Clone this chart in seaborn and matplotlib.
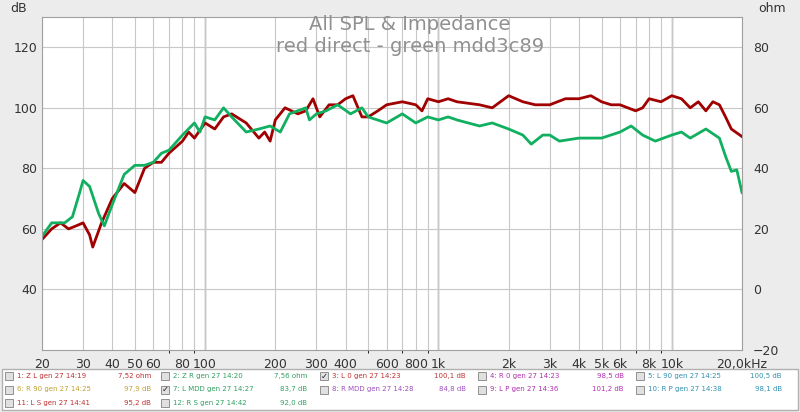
import matplotlib
matplotlib.use('Agg')
import matplotlib.pyplot as plt
from matplotlib.ticker import FixedLocator, NullFormatter
import seaborn as sns
import pandas as pd
import numpy as np

# red curve: direct
red_freq = [20, 22, 24, 26, 28, 30, 32, 33, 36, 40, 45, 50, 55, 60, 65, 70, 80, 85, 90, 100, 110, 120,
            130, 150, 170, 180, 190, 200, 220, 250, 270, 290, 310, 340, 370, 400, 430, 470, 500, 550,
            600, 700, 800, 850, 900, 1000, 1100, 1200, 1500, 1700, 2000, 2300, 2600, 3000, 3500, 4000,
            4500, 5000, 5500, 6000, 7000, 7500, 8000, 9000, 10000, 11000, 12000, 13000, 14000, 15000,
            16000, 17000, 18000, 20000]
red_db = [56.5, 60, 62, 60, 61, 62, 58, 54, 62, 70, 75, 72, 80, 82, 82, 85, 89, 92, 90, 95, 93, 97,
          98, 95, 90, 92, 89, 96, 100, 98, 99, 103, 97, 101, 101, 103, 104, 97, 97, 99,
          101, 102, 101, 99, 103, 102, 103, 102, 101, 100, 104, 102, 101, 101, 103, 103,
          104, 102, 101, 101, 99, 100, 103, 102, 104, 103, 100, 102, 99, 102,
          101, 97, 93, 90.5]

# green curve: mdd3c89
green_freq = [20, 22, 25, 27, 29, 30, 32, 35, 37, 40, 45, 50, 55, 60, 65, 70, 80, 90, 95, 100, 110,
              120, 130, 150, 170, 190, 210, 230, 270, 280, 300, 330, 370, 420, 470, 500, 600, 700,
              800, 900, 1000, 1100, 1200, 1500, 1700, 2000, 2300, 2500, 2800, 3000, 3300, 4000, 5000,
              6000, 6700, 7500, 8500, 10000, 11000, 12000, 14000, 16000, 17000, 18000, 19000, 20000]
green_db = [57.5, 62, 62, 64, 72, 76, 74, 65, 61, 68, 78, 81, 81, 82, 85, 86, 91, 95, 92, 97, 96,
            100, 97, 92, 93, 94, 92, 98, 100, 96, 98, 99, 101, 98, 100, 97, 95, 98,
            95, 97, 96, 97, 96, 94, 95, 93, 91, 88, 91, 91, 89, 90, 90,
            92, 94, 91, 89, 91, 92, 90, 93, 90, 84, 79, 79.5, 72]

x_ticks = [20, 30, 40, 50, 60, 80, 100, 200, 300, 400, 600, 800, 1000, 2000, 3000, 4000, 5000, 6000,
           8000, 10000, 20000]
x_labels = ['20', '30', '40', '50', '60', '80', '100', '200', '300', '400', '600', '800', '1k', '2k',
            '3k', '4k', '5k', '6k', '8k', '10k', '20,0kHz']

legend_rows = [
    [('1: Z L gen 27 14:19', '7,52 ohm', '#c03030', False), ('2: Z R gen 27 14:20', '7,56 ohm', '#30a060', False),
     ('3: L 0 gen 27 14:23', '100,1 dB', '#c03030', True), ('4: R 0 gen 27 14:23', '98,5 dB', '#b030b0', False),
     ('5: L 90 gen 27 14:25', '100,5 dB', '#3090b0', False)],
    [('6: R 90 gen 27 14:25', '97,9 dB', '#c0a030', False), ('7: L MDD gen 27 14:27', '83,7 dB', '#30a060', True),
     ('8: R MDD gen 27 14:28', '84,8 dB', '#a050c0', False), ('9: L P gen 27 14:36', '101,2 dB', '#b030b0', False),
     ('10: R P gen 27 14:38', '98,1 dB', '#3090b0', False)],
    [('11: L S gen 27 14:41', '95,2 dB', '#c03030', False), ('12: R S gen 27 14:42', '92,0 dB', '#30a060', False)],
]

df = pd.concat([
    pd.DataFrame({'freq': red_freq, 'db': red_db, 'curve': 'direct'}),
    pd.DataFrame({'freq': green_freq, 'db': green_db, 'curve': 'mdd'}),
])

fig = plt.figure(figsize=(8, 4.12), dpi=100, facecolor='#ececec')
ax = fig.add_axes([42 / 800, 1 - 350 / 412, 700 / 800, 333 / 412])
ax.set_facecolor('white')

sns.lineplot(data=df, x='freq', y='db', hue='curve', palette={'direct': '#a00000', 'mdd': '#10b060'},
             linewidth=2, legend=False, ax=ax, sort=True)
ax.set_xscale('log')
ax.set_xlim(20, 20000)
ax.set_ylim(20, 130)

minor = [f * 10 ** d for d in range(1, 5) for f in range(2, 10) if 20 <= f * 10 ** d <= 20000]
ax.xaxis.set_major_locator(FixedLocator(x_ticks))
ax.xaxis.set_minor_locator(FixedLocator(minor))
ax.xaxis.set_minor_formatter(NullFormatter())
ax.set_xticklabels(x_labels, fontsize=9)
ax.grid(True, which='both', axis='x', color='#c8c8c8', linewidth=0.8)
for d in [100, 1000, 10000]:
    ax.axvline(d, color='#909090', linewidth=1, zorder=0)
ax.set_yticks([40, 60, 80, 100, 120])
ax.grid(True, axis='y', color='#c8c8c8', linewidth=0.8)
ax.tick_params(length=0, labelsize=9, colors='#333333')
ax.tick_params(axis='x', pad=6)
ax.set_xlabel('')
ax.set_ylabel('')
for s in ax.spines.values():
    s.set_color('#a0a0a0')

ax2 = ax.twinx()
ax2.set_ylim(-20, 90)
ax2.set_yticks([-20, 0, 20, 40, 60, 80])
ax2.tick_params(length=0, labelsize=9, colors='#333333', pad=8)
for s in ax2.spines.values():
    s.set_visible(False)

fig.text(10 / 800, 1 - 9 / 412, 'dB', fontsize=9, color='#333333', va='center')
fig.text(758 / 800, 1 - 9 / 412, 'ohm', fontsize=9, color='#333333', va='center')
fig.text(410 / 800, 1 - 25 / 412, 'All SPL & Impedance', fontsize=14, color='#909090', ha='center', va='center')
fig.text(410 / 800, 1 - 47 / 412, 'red direct - green mdd3c89', fontsize=14, color='#909090', ha='center', va='center')

# legend panel
lax = fig.add_axes([0, 0, 1, 45 / 412])
lax.set_xlim(0, 800)
lax.set_ylim(45, 0)
lax.axis('off')
lax.add_patch(plt.Rectangle((2, 2), 796, 41, facecolor='white', edgecolor='#b0b0b0', lw=1))
col_x = [5, 161, 320, 478, 636]
for r, row in enumerate(legend_rows):
    y = 9 + r * 13.5
    for c, (name, val, color, checked) in enumerate(row):
        x = col_x[c]
        lax.add_patch(plt.Rectangle((x, y - 4), 8, 8, facecolor='#e0e0e0', edgecolor='#909090', lw=0.7))
        if checked:
            lax.text(x + 4, y, '✓', fontsize=6, ha='center', va='center', color='#222222')
        lax.text(x + 12, y, name, fontsize=5, color=color, va='center')
        lax.text(x + 146, y, val, fontsize=5, color=color, va='center', ha='right')

fig.savefig('out.png', dpi=100, facecolor=fig.get_facecolor())
